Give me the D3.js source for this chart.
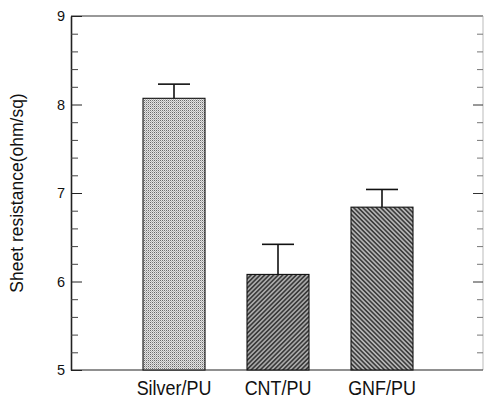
<!DOCTYPE html>
<html>
<head>
<meta charset="utf-8">
<script src="https://cdn.jsdelivr.net/npm/d3@7"></script>
<style>
  body { margin: 0; background: #fff; }
  text { font-family: "Liberation Sans", Arial, sans-serif; fill: #111; }
</style>
</head>
<body>
<div class="chart"></div>
<script>
const categories = ['Silver/PU', 'CNT/PU', 'GNF/PU']
const values = [8.07, 6.08, 6.84]
const errors = [0.16, 0.34, 0.2]
const majorTicks = [5, 6, 7, 8, 9]
const minorTicks = [5.2, 5.4, 5.6, 5.8, 6.2, 6.4, 6.6, 6.8, 7.2, 7.4, 7.6, 7.8, 8.2, 8.4, 8.6, 8.8]

const width = 484
const height = 401
const plotLeft = 71, plotRight = 483, plotTop = 16, plotBottom = 370
const barWidth = 62

const svg = d3
  .select('.chart')
  .append('svg')
  .attr('width', width)
  .attr('height', height)

const y = d3.scaleLinear().domain([5, 9]).range([plotBottom, plotTop])
const x = d3.scalePoint().domain(categories).range([174, 382])

// fill patterns, one per bar
const defs = svg.append('defs')
const stipple = defs.append('pattern')
  .attr('id', 'p0').attr('patternUnits', 'userSpaceOnUse')
  .attr('width', 6).attr('height', 6)
  .attr('shape-rendering', 'crispEdges')
stipple.append('rect').attr('width', 6).attr('height', 6).attr('fill', '#e4e4e4')
// dot screen: dark dots on even cells, softer ones on odd cells
for (let r = 0; r < 6; r++) {
  for (let c = 0; c < 6; c++) {
    let fill = null
    if (r % 2 === 0 && c % 2 === 0) fill = (r + c) % 4 === 0 ? '#666' : '#7a7a7a'
    else if (r % 2 === 1 && c % 2 === 1) fill = '#b4b4b4'
    if (fill) {
      stipple.append('rect').attr('x', c).attr('y', r)
        .attr('width', 1).attr('height', 1).attr('fill', fill)
    }
  }
}

function hatch(id, bg, dir) {
  const p = defs.append('pattern')
    .attr('id', id).attr('patternUnits', 'userSpaceOnUse')
    .attr('width', 3.2).attr('height', 3.2)
    .attr('patternTransform', 'rotate(' + dir + ')')
  p.append('rect').attr('width', 3.2).attr('height', 3.2).attr('fill', bg)
  p.append('line').attr('x1', 0.8).attr('y1', 0).attr('x2', 0.8).attr('y2', 3.2)
    .attr('stroke', '#222').attr('stroke-width', 1.3)
}
hatch('p1', '#a8a8a8', 45)
hatch('p2', '#b4b4b4', -45)

// frame
svg.append('line').attr('x1', plotLeft).attr('x2', plotRight).attr('y1', plotTop).attr('y2', plotTop)
  .attr('stroke', '#333').attr('stroke-width', 1)
svg.append('line').attr('x1', plotRight).attr('x2', plotRight).attr('y1', plotTop).attr('y2', plotBottom)
  .attr('stroke', '#aaa').attr('stroke-width', 0.8)
svg.append('line').attr('x1', plotLeft).attr('x2', plotRight).attr('y1', plotBottom).attr('y2', plotBottom)
  .attr('stroke', '#222').attr('stroke-width', 1.2)

// bars
svg.append('g').selectAll('rect')
  .data(categories)
  .enter()
  .append('rect')
  .attr('x', (d) => x(d) - barWidth / 2)
  .attr('y', (d, i) => y(values[i]))
  .attr('width', barWidth)
  .attr('height', (d, i) => plotBottom - y(values[i]))
  .attr('fill', (d, i) => 'url(#p' + i + ')')
  .attr('stroke', '#111')
  .attr('stroke-width', 1.1)

// error bars, upper side only
const err = svg.append('g').attr('stroke', '#111').attr('stroke-width', 1.6)
categories.forEach((d, i) => {
  err.append('line')
    .attr('x1', x(d)).attr('x2', x(d))
    .attr('y1', y(values[i])).attr('y2', y(values[i] + errors[i]))
  err.append('line')
    .attr('x1', x(d) - 16).attr('x2', x(d) + 16)
    .attr('y1', y(values[i] + errors[i])).attr('y2', y(values[i] + errors[i]))
})

// left axis, ticks inside
const yAxis = svg.append('g')
  .attr('transform', 'translate(' + plotLeft + ',0)')
  .call(d3.axisLeft(y).tickValues(majorTicks).tickFormat(d3.format('d'))
    .tickSizeInner(-11).tickSizeOuter(0).tickPadding(6))
yAxis.select('.domain').attr('stroke', '#222').attr('stroke-width', 1.6)
yAxis.selectAll('.tick line').attr('stroke', '#222')
yAxis.selectAll('text').attr('font-size', 14.5).attr('font-family', '"Liberation Sans", Arial, sans-serif').attr('fill', '#111')

const yMinor = svg.append('g')
  .attr('transform', 'translate(' + plotLeft + ',0)')
  .call(d3.axisLeft(y).tickValues(minorTicks).tickSizeInner(-7).tickSizeOuter(0).tickFormat(''))
yMinor.select('.domain').remove()
yMinor.selectAll('.tick line').attr('stroke', '#444')

// right axis mirror
const rMajor = svg.append('g')
  .attr('transform', 'translate(' + plotRight + ',0)')
  .call(d3.axisLeft(y).tickValues(majorTicks.slice(1, 4)).tickSizeInner(10).tickSizeOuter(0).tickFormat(''))
rMajor.select('.domain').remove()
rMajor.selectAll('.tick line').attr('stroke', '#333')
const rMinor = svg.append('g')
  .attr('transform', 'translate(' + plotRight + ',0)')
  .call(d3.axisLeft(y).tickValues(minorTicks).tickSizeInner(6).tickSizeOuter(0).tickFormat(''))
rMinor.select('.domain').remove()
rMinor.selectAll('.tick line').attr('stroke', '#777')

// category labels (slightly condensed like the scan)
svg.append('g').selectAll('text')
  .data(categories)
  .enter()
  .append('text')
  .attr('transform', (d) => 'translate(' + x(d) + ',395) scale(0.92,1)')
  .attr('text-anchor', 'middle')
  .attr('font-size', 19.5)
  .text((d) => d)

// y title
svg.append('text')
  .attr('transform', 'translate(23,' + (plotTop + plotBottom) / 2 + ') rotate(-90)')
  .attr('text-anchor', 'middle')
  .attr('font-size', 17.5)
  .text('Sheet resistance(ohm/sq)')
</script>
</body>
</html>
